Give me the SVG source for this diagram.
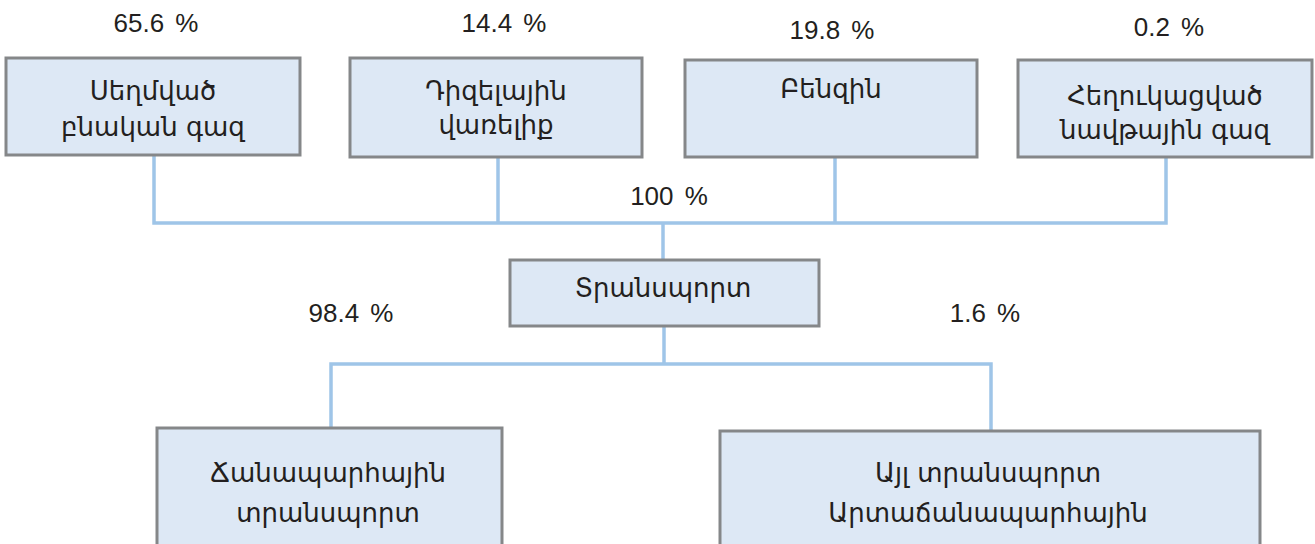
<svg xmlns="http://www.w3.org/2000/svg" width="1315" height="544" viewBox="0 0 1315 544">
<style>
.box{fill:#dde8f5;stroke:#858789;stroke-width:3}
.lbl{font-family:"DejaVu Sans","Noto Sans",sans-serif;font-size:26px;fill:#231f20;text-anchor:middle}
.pct{font-family:"Liberation Sans",Arial,sans-serif;font-size:26px;fill:#231f20;text-anchor:middle;word-spacing:4px}
.con{stroke:#9fc5e8;stroke-width:3.5;fill:none}
</style>
<rect width="1315" height="544" fill="#ffffff"/>
<g id="connectors">
<polyline class="con" points="154,156 154,223 1166,223 1166,158"/>
<line class="con" x1="498" y1="158" x2="498" y2="223"/>
<line class="con" x1="835" y1="158" x2="835" y2="223"/>
<line class="con" x1="663" y1="223" x2="663" y2="259"/>
<line class="con" x1="664" y1="327" x2="664" y2="364"/>
<polyline class="con" points="331,428 331,364 991,364 991,431"/>
</g>
<g id="pct-labels">
<text class="pct" x="156" y="32">65.6 %</text>
<text class="pct" x="504" y="32">14.4 %</text>
<text class="pct" x="832" y="39">19.8 %</text>
<text class="pct" x="1169" y="36">0.2 %</text>
<text class="pct" x="669" y="205">100 %</text>
<text class="pct" x="351" y="322">98.4 %</text>
<text class="pct" x="985" y="322">1.6 %</text>
</g>
<g id="node-cng">
<rect class="box" x="6" y="58" width="294" height="97"/>
<text class="lbl" x="153" y="100">Սեղմված</text>
<text class="lbl" x="153" y="136">բնական գազ</text>
</g>
<g id="node-diesel">
<rect class="box" x="350" y="58" width="292" height="99"/>
<text class="lbl" x="496" y="100">Դիզելային</text>
<text class="lbl" x="496" y="134">վառելիք</text>
</g>
<g id="node-petrol">
<rect class="box" x="685" y="60" width="292" height="97"/>
<text class="lbl" x="831" y="98">Բենզին</text>
</g>
<g id="node-lpg">
<rect class="box" x="1018" y="60" width="294" height="97"/>
<text class="lbl" x="1165" y="105">Հեղուկացված</text>
<text class="lbl" x="1165" y="139">նավթային գազ</text>
</g>
<g id="node-transport">
<rect class="box" x="510" y="260" width="309" height="66"/>
<text class="lbl" x="663" y="297">Տրանսպորտ</text>
</g>
<g id="node-road">
<rect class="box" x="157" y="428" width="345" height="130"/>
<text class="lbl" x="328" y="482">Ճանապարհային</text>
<text class="lbl" x="328" y="522">տրանսպորտ</text>
</g>
<g id="node-other">
<rect class="box" x="720" y="431" width="540" height="130"/>
<text class="lbl" x="988" y="482">Այլ տրանսպորտ</text>
<text class="lbl" x="988" y="522">Արտաճանապարհային</text>
</g>
</svg>
